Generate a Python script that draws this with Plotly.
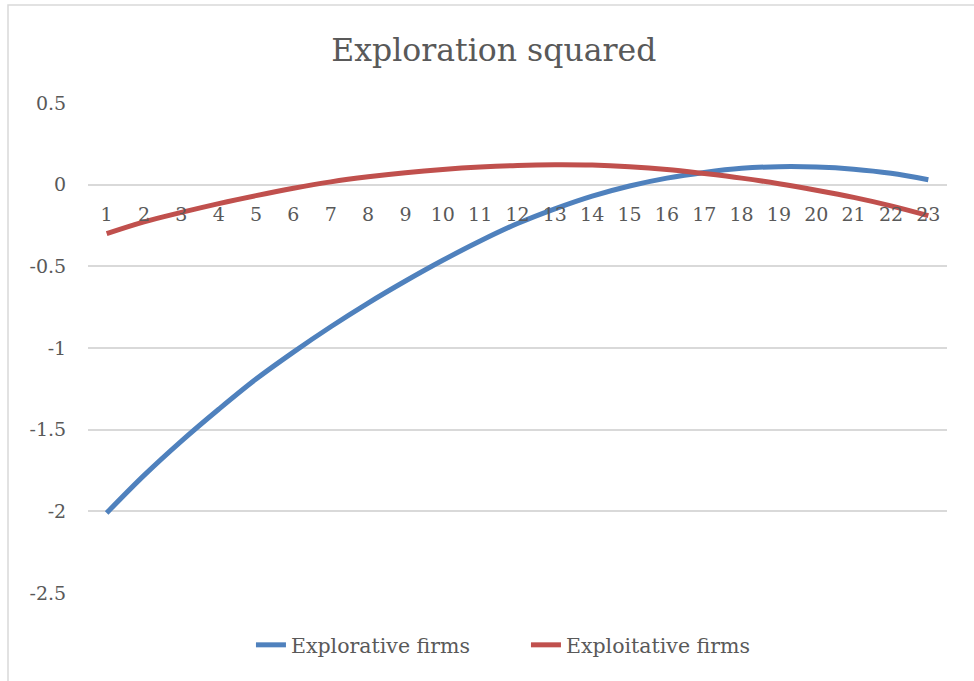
import plotly.graph_objects as go

categories = [str(i) for i in range(1, 24)]
explorative = [-2.01, -1.78, -1.57, -1.375, -1.19, -1.025, -0.87, -0.725, -0.59, -0.463,
               -0.345, -0.238, -0.148, -0.07, -0.008, 0.04, 0.075, 0.10, 0.11, 0.108,
               0.095, 0.07, 0.03]
exploitative = [-0.30, -0.228, -0.17, -0.116, -0.067, -0.022, 0.017, 0.048, 0.073, 0.093,
                0.108, 0.118, 0.122, 0.12, 0.11, 0.093, 0.068, 0.04, 0.006, -0.034,
                -0.078, -0.13, -0.19]
y_tick_values = [-2.5, -2, -1.5, -1, -0.5, 0, 0.5]
y_tick_labels = ["-2.5", "-2", "-1.5", "-1", "-0.5", "0", "0.5"]

FONT = "DejaVu Serif"
GREY = "#595959"

fig = go.Figure()
fig.add_trace(go.Scatter(x=categories, y=explorative, name="Explorative firms",
                         mode="lines", line=dict(color="#4f81bd", width=5, shape="spline")))
fig.add_trace(go.Scatter(x=categories, y=exploitative, name="Exploitative firms",
                         mode="lines", line=dict(color="#c0504d", width=5, shape="spline")))

fig.update_layout(
    width=974, height=681, autosize=False,
    margin=dict(l=88, r=27, t=103, b=88, autoexpand=False),
    paper_bgcolor="white", plot_bgcolor="white",
    font=dict(family=FONT, color=GREY, size=19),
    title=dict(text="Exploration squared", x=0.507, xref="container", xanchor="center",
               y=1 - 50 / 681, yref="container", yanchor="middle",
               font=dict(family=FONT, size=31.5, color=GREY)),
    showlegend=True,
    legend=dict(orientation="h", xref="container", yref="container",
                x=0.54, xanchor="center", y=1 - 645 / 681, yanchor="middle",
                font=dict(family=FONT, size=20.5, color=GREY),
                itemwidth=30, tracegroupgap=0,
                entrywidth=230, entrywidthmode="pixels"),
    xaxis=dict(type="category", range=[-0.5, 22.5], anchor="free", automargin=False,
               position=(593 - 185) / 490, showgrid=False, showline=False, zeroline=False,
               ticks="outside", ticklen=12, tickcolor="rgba(0,0,0,0)",
               tickfont=dict(family=FONT, size=19, color=GREY)),
    yaxis=dict(range=[-2.5, 0.5], tickvals=y_tick_values, ticktext=y_tick_labels,
               automargin=False,
               showgrid=True, gridcolor="#d9d9d9", gridwidth=2, zeroline=False,
               showline=False, ticks="outside", ticklen=17, tickcolor="rgba(0,0,0,0)",
               tickfont=dict(family=FONT, size=19, color=GREY)),
    shapes=[dict(type="rect", xref="paper", yref="paper",
                 x0=(8 - 88) / 859, x1=(990 - 88) / 859,
                 y0=(593 - 700) / 490, y1=(593 - 5) / 490,
                 line=dict(color="#d9d9d9", width=1.5), layer="below")],
)

fig.write_html("out.html", config={"displayModeBar": False},
               post_script="document.body.style.margin='0';")
